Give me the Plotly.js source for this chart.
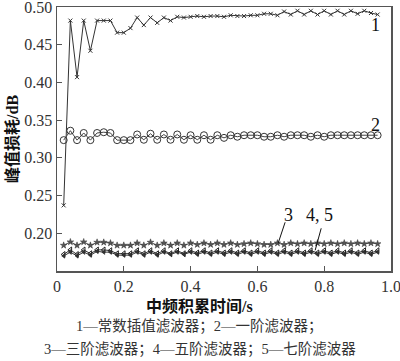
<!DOCTYPE html>
<html>
<head>
<meta charset="utf-8">
<script src="https://cdn.plot.ly/plotly-3.0.1.min.js"></script>
<style>html,body{margin:0;padding:0;background:#fff;}#chart{width:400px;height:361px;}</style>
</head>
<body>
<div id="chart"></div>
<script>
const timeS = [0.02,0.04,0.06,0.08,0.10,0.12,0.14,0.16,0.18,0.20,0.22,0.24,0.26,0.28,0.30,0.32,0.34,0.36,0.38,0.40,0.42,0.44,0.46,0.48,0.50,0.52,0.54,0.56,0.58,0.60,0.62,0.64,0.66,0.68,0.70,0.72,0.74,0.76,0.78,0.80,0.82,0.84,0.86,0.88,0.90,0.92,0.94,0.96];
const loss1 = [0.237,0.482,0.407,0.482,0.442,0.482,0.482,0.482,0.466,0.466,0.472,0.486,0.476,0.486,0.479,0.486,0.482,0.487,0.486,0.487,0.488,0.487,0.488,0.488,0.487,0.489,0.488,0.488,0.489,0.489,0.491,0.491,0.489,0.494,0.490,0.495,0.490,0.495,0.490,0.495,0.490,0.495,0.490,0.495,0.491,0.495,0.492,0.490];
const loss2 = [0.3235,0.336,0.3235,0.333,0.3235,0.333,0.334,0.333,0.3235,0.3235,0.3235,0.331,0.324,0.332,0.324,0.331,0.324,0.331,0.324,0.330,0.324,0.330,0.324,0.330,0.3265,0.330,0.328,0.330,0.330,0.330,0.328,0.328,0.330,0.328,0.330,0.330,0.330,0.328,0.330,0.328,0.330,0.330,0.330,0.330,0.330,0.330,0.330,0.330];
const loss3 = [0.184,0.1885,0.184,0.1885,0.184,0.188,0.188,0.187,0.184,0.184,0.184,0.187,0.184,0.188,0.184,0.187,0.184,0.187,0.184,0.187,0.185,0.187,0.185,0.187,0.185,0.187,0.185,0.186,0.187,0.186,0.185,0.185,0.187,0.185,0.187,0.186,0.187,0.186,0.187,0.186,0.187,0.186,0.187,0.186,0.187,0.186,0.187,0.186];
const loss4 = [0.172,0.178,0.172,0.178,0.173,0.178,0.178,0.177,0.173,0.173,0.173,0.177,0.173,0.177,0.173,0.177,0.173,0.177,0.173,0.177,0.174,0.177,0.174,0.177,0.174,0.177,0.174,0.177,0.174,0.177,0.174,0.177,0.174,0.177,0.174,0.177,0.174,0.177,0.174,0.177,0.174,0.177,0.174,0.177,0.174,0.177,0.174,0.177];
const loss5 = [0.170,0.175,0.170,0.175,0.171,0.176,0.175,0.175,0.171,0.171,0.171,0.175,0.171,0.175,0.171,0.175,0.172,0.175,0.172,0.175,0.172,0.175,0.172,0.175,0.172,0.175,0.172,0.175,0.172,0.175,0.172,0.175,0.172,0.175,0.172,0.175,0.172,0.175,0.172,0.175,0.172,0.175,0.172,0.175,0.172,0.175,0.172,0.175];
const yTicks = [0.20,0.25,0.30,0.35,0.40,0.45,0.50];
const yTickText = ['0.20','0.25','0.30','0.35','0.40','0.45','0.50'];
const xTicks = [0,0.2,0.4,0.6,0.8,1.0];
const xTickText = ['0','0.2','0.4','0.6','0.8','1.0'];
const seriesLabels = ['1','2','3','4, 5'];
const xTitle = '中频积累时间/s';
const yTitle = '峰值损耗/dB';
const caption1 = '1—常数插值滤波器；2—一阶滤波器；';
const caption2 = '3—三阶滤波器；4—五阶滤波器；5—七阶滤波器';

const serif = 'Liberation Serif, Times New Roman, Noto Sans CJK SC, serif';
const cjk = 'Liberation Serif, Noto Sans CJK SC, serif';

const traces = [
  {x: timeS, y: loss1, mode:'lines+markers', line:{color:'#333',width:1},
   marker:{symbol:'x-thin-open', size:4, line:{color:'#222',width:1}}},
  {x: timeS, y: loss2, mode:'lines+markers', line:{color:'#444',width:1},
   marker:{symbol:'circle-open', size:7, color:'#333', line:{color:'#333',width:1}}},
  {x: timeS, y: loss3, mode:'lines+markers', line:{color:'#555',width:1},
   marker:{symbol:'star', size:5, color:'#555', line:{color:'#333',width:0.5}}},
  {x: timeS, y: loss4, mode:'lines+markers', line:{color:'#333',width:1},
   marker:{symbol:'triangle-left-open', size:5, color:'#222', line:{color:'#222',width:1}}},
  {x: timeS, y: loss5, mode:'lines+markers', line:{color:'#333',width:1},
   marker:{symbol:'triangle-left', size:4, color:'#333', line:{color:'#222',width:0.5}}}
];

const layout = {
  width:400, height:361,
  margin:{l:57, r:9, t:7, b:90},
  paper_bgcolor:'#fff', plot_bgcolor:'#fff',
  showlegend:false,
  font:{family:serif, color:'#222'},
  xaxis:{range:[0,1.0], tickvals:xTicks, ticktext:xTickText, ticks:'inside', ticklen:5,
         tickcolor:'#555', showline:true, linecolor:'#555', linewidth:1.5, mirror:true,
         showgrid:false, zeroline:false, ticklabeloverflow:'allow',
         tickfont:{family:serif,size:16,color:'#333'}},
  yaxis:{range:[0.15,0.50], tickvals:yTicks, ticktext:yTickText, ticks:'inside', ticklen:5,
         tickcolor:'#555', showline:true, linecolor:'#555', linewidth:1.5, mirror:true,
         showgrid:false, zeroline:false, ticklabeloverflow:'allow',
         tickfont:{family:serif,size:16,color:'#333'}},
  annotations:[
    {x:0.428, y:-0.136, xref:'paper', yref:'paper', xanchor:'center', yanchor:'middle', text:xTitle, showarrow:false, font:{family:cjk,size:16,color:'#111',weight:'bold'}},
    {x:-0.135, y:0.5, xref:'paper', yref:'paper', xanchor:'center', yanchor:'middle', text:yTitle, textangle:-90, showarrow:false, font:{family:cjk,size:16,color:'#111',weight:'bold'}},
    {x:0.953, y:0.476, xref:'x', yref:'y', xanchor:'center', yanchor:'middle', text:seriesLabels[0], showarrow:false, font:{family:serif,size:18,color:'#111'}},
    {x:0.953, y:0.3434, xref:'x', yref:'y', xanchor:'center', yanchor:'middle', text:seriesLabels[1], showarrow:false, font:{family:serif,size:18,color:'#111'}},
    {x:0.692, y:0.2239, xref:'x', yref:'y', xanchor:'center', yanchor:'middle', text:seriesLabels[2], showarrow:false, font:{family:serif,size:18,color:'#111'}},
    {x:0.785, y:0.2239, xref:'x', yref:'y', xanchor:'center', yanchor:'middle', text:seriesLabels[3], showarrow:false, font:{family:serif,size:18,color:'#111'}},
    {x:0.428, y:-0.212, xref:'paper', yref:'paper', xanchor:'center', yanchor:'middle', text:caption1, showarrow:false, font:{family:cjk,size:14.5,color:'#333'}},
    {x:0.428, y:-0.299, xref:'paper', yref:'paper', xanchor:'center', yanchor:'middle', text:caption2, showarrow:false, font:{family:cjk,size:14.5,color:'#333'}}
  ],
  shapes:[
    {type:'line', xref:'x', yref:'y', x0:0.683, y0:0.2146, x1:0.662, y1:0.1867, line:{color:'#111',width:1}},
    {type:'line', xref:'x', yref:'y', x0:0.791, y0:0.2066, x1:0.773, y1:0.1775, line:{color:'#111',width:1}}
  ]
};

Plotly.newPlot('chart', traces, layout, {displayModeBar:false, staticPlot:true});
</script>
</body>
</html>
